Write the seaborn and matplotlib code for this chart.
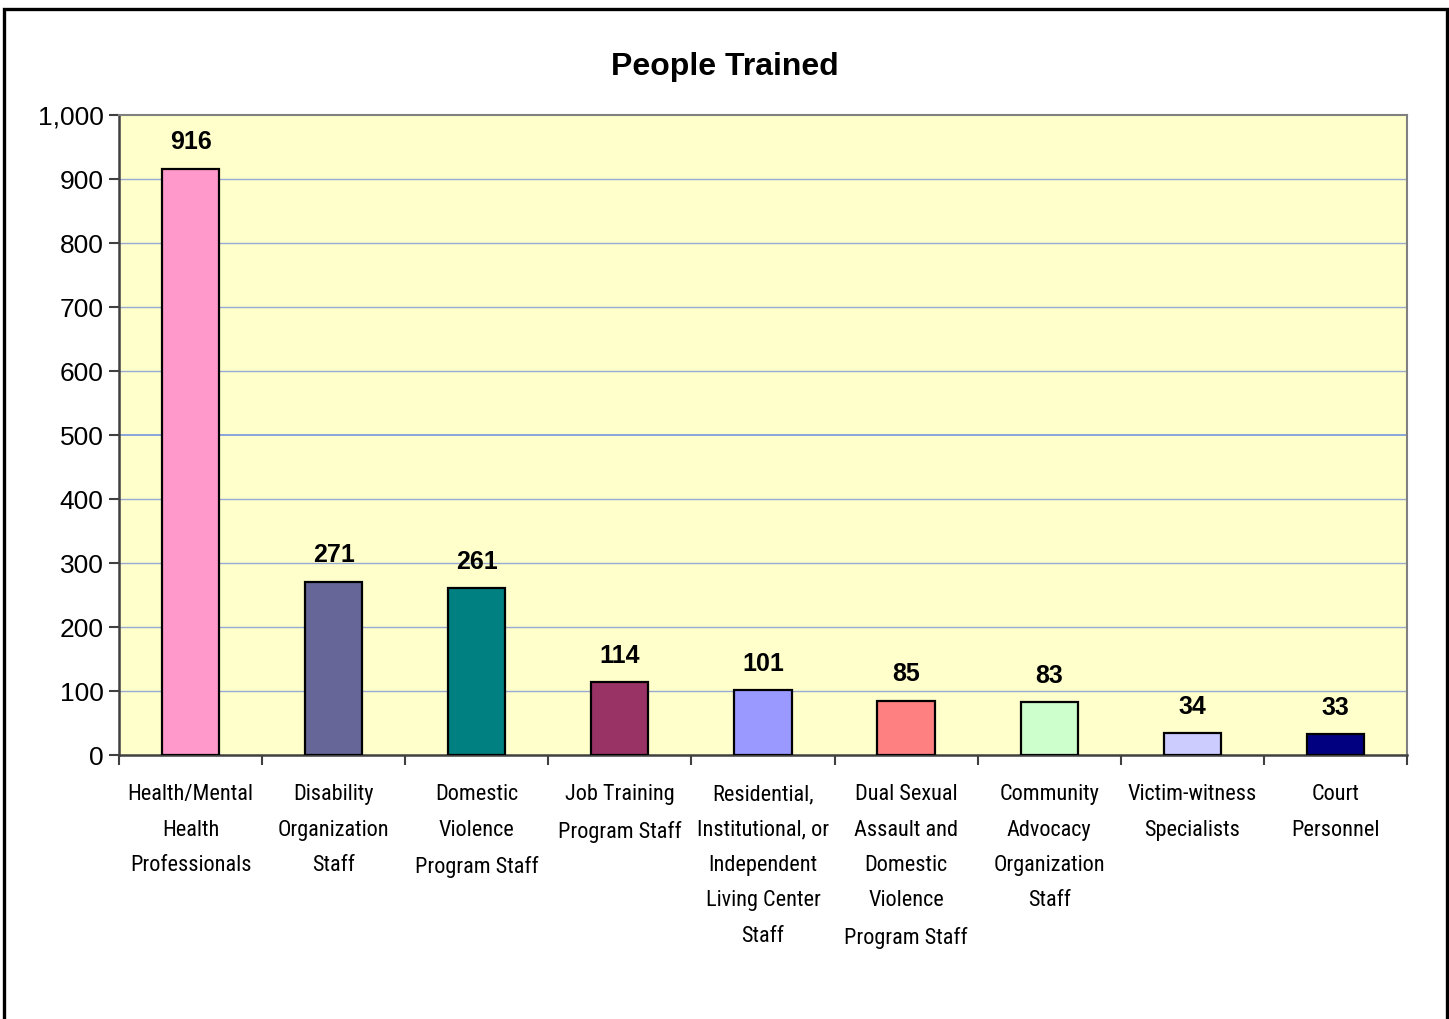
import matplotlib
matplotlib.use("Agg")
import matplotlib.pyplot as plt
from matplotlib import font_manager
import seaborn as sns
import pandas as pd
from matplotlib.patches import Rectangle
from matplotlib.ticker import FuncFormatter

# data
categories = [
    "Health/Mental\nHealth\nProfessionals",
    "Disability\nOrganization\nStaff",
    "Domestic\nViolence\nProgram Staff",
    "Job Training\nProgram Staff",
    "Residential,\nInstitutional, or\nIndependent\nLiving Center\nStaff",
    "Dual Sexual\nAssault and\nDomestic\nViolence\nProgram Staff",
    "Community\nAdvocacy\nOrganization\nStaff",
    "Victim-witness\nSpecialists",
    "Court\nPersonnel",
]
people_trained = [916, 271, 261, 114, 101, 85, 83, 34, 33]
bar_colors = ["#FF99CC", "#666699", "#008080", "#993366", "#9999FF",
              "#FF8080", "#CCFFCC", "#CCCCFF", "#000080"]

df = pd.DataFrame({"Category": categories, "People": people_trained})

sns.set_theme(style="white")
plt.rcParams["font.family"] = ["Liberation Sans", "DejaVu Sans"]
plt.rcParams["text.color"] = "black"
plt.rcParams["xtick.color"] = "black"
plt.rcParams["ytick.color"] = "black"

# look for a narrow font for the category labels (Excel used Arial Narrow-ish)
names = {f.name for f in font_manager.fontManager.ttflist}
narrow = None
for cand in ["Liberation Sans Narrow", "Roboto Condensed", "Open Sans Condensed"]:
    if cand in names:
        narrow = dict(family=[cand, "Liberation Sans"])
        break
if narrow is None:
    cond = [f for f in font_manager.fontManager.ttflist
            if f.name == "DejaVu Sans" and "ondensed" in str(f.stretch)]
    if cond:
        narrow = dict(family=["DejaVu Sans"], fontstretch="condensed")
    else:
        narrow = dict(family=["Liberation Sans"])

fig = plt.figure(figsize=(14.49, 10.19), dpi=100)
ax = fig.add_axes([0.0821, 0.259, 0.971 - 0.0821, 0.8871 - 0.259])
ax.set_facecolor("#FFFFCC")

sns.barplot(data=df, x="Category", y="People", hue="Category",
            palette=bar_colors, legend=False, width=0.4,
            edgecolor="black", linewidth=1.6, saturation=1, ax=ax, zorder=3)

ax.set_ylim(0, 1000)
ax.set_xlim(-0.5, len(categories) - 0.5)
ax.set_yticks(range(0, 1001, 100))
ax.yaxis.set_major_formatter(FuncFormatter(lambda v, p: f"{int(v):,}"))

# gridlines (the 500 one is a bit bluer in the original)
for v in range(100, 1000, 100):
    c = "#7F9EDB" if v == 500 else "#98AAD0"
    ax.axhline(v, color=c, lw=1.3 if v == 500 else 1.0, zorder=1)

ax.set_xlabel("")
ax.set_ylabel("")

# ticks at category boundaries, labels centred under the bars
ax.set_xticks([i - 0.5 for i in range(len(categories) + 1)], minor=False)
ax.set_xticklabels([])
ax.set_xticks(range(len(categories)), minor=True)
ax.set_xticklabels(categories, minor=True, fontsize=16,
                   linespacing=1.9, va="top", **narrow)
ax.tick_params(axis="x", which="minor", length=0, pad=21)
ax.tick_params(axis="x", which="major", length=7, width=1.5, color="#404040", direction="out")
ax.tick_params(axis="y", length=7, width=1.5, color="#404040", direction="out",
               labelsize=19, pad=4)
ax.tick_params(axis="both", bottom=True, left=True)

for s in ["top", "right"]:
    ax.spines[s].set_color("#808080")
    ax.spines[s].set_linewidth(1.5)
for s in ["left", "bottom"]:
    ax.spines[s].set_color("#404040")
    ax.spines[s].set_linewidth(1.8)

for i, v in enumerate(people_trained):
    ax.annotate(str(v), (i, v), xytext=(0, 19), textcoords="offset points",
                ha="center", va="center", fontsize=18, fontweight="bold")

fig.text(0.5, 0.934, "People Trained", ha="center", va="center",
         fontsize=23, fontweight="bold")

# outer chart border
fig.add_artist(Rectangle((0.0028, -0.05), 0.9955, 0.05 + 0.9915,
                         transform=fig.transFigure, fill=False,
                         edgecolor="black", linewidth=2.4, clip_on=False))

fig.savefig("out.png", dpi=100, facecolor="white")
